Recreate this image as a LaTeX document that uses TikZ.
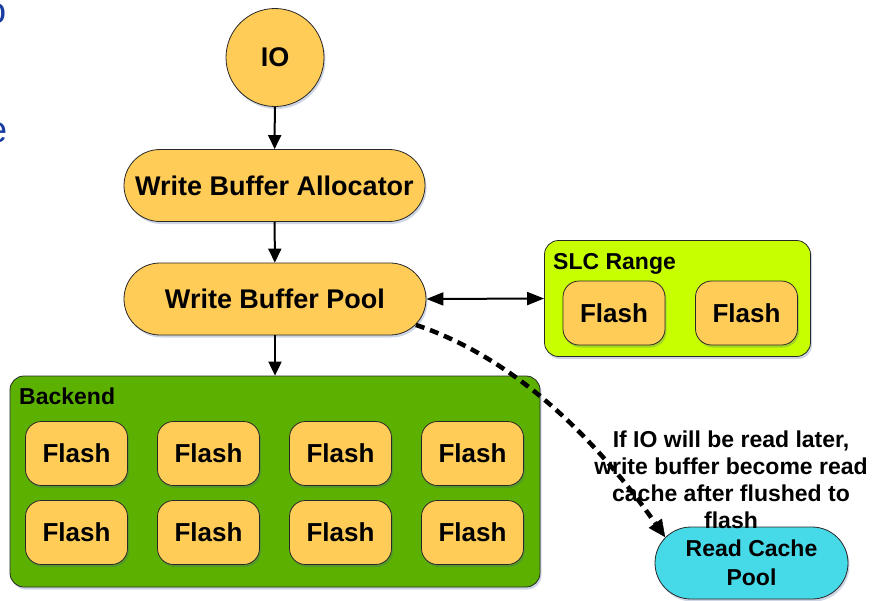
\documentclass[tikz,border=0pt]{standalone}
\usepackage{fontspec}
\setmainfont{Liberation Sans}
\usetikzlibrary{arrows.meta,shadows}

\definecolor{boxorange}{RGB}{255,204,88}
\definecolor{backgreen}{RGB}{92,177,0}
\definecolor{slclime}{RGB}{200,255,0}
\definecolor{cachecyan}{RGB}{70,218,233}
\definecolor{edgegray}{RGB}{40,40,40}
\definecolor{slideblue}{RGB}{25,60,160}
\definecolor{shadowtone}{RGB}{60,90,150}

\tikzset{
  softshadow/.style={drop shadow={shadow xshift=1.5pt,shadow yshift=-2.5pt,fill=shadowtone,opacity=0.25}},
  bold/.style={font=\bfseries\fontsize{#1}{#1}\selectfont},
  stadium/.style={rectangle,rounded corners=36,draw=edgegray,line width=0.8,
    fill=boxorange,softshadow,minimum height=72,bold=27},
  iocircle/.style={circle,draw=edgegray,line width=0.8,fill=boxorange,
    softshadow,minimum size=98,bold=27},
  groupbox/.style={rectangle,rounded corners=14,draw=edgegray,line width=0.8,softshadow},
  grouplabel/.style={anchor=base west,inner sep=0,bold=23},
  flashbox/.style={rectangle,rounded corners=16,draw=edgegray,line width=0.8,
    fill=boxorange,softshadow,minimum width=102,minimum height=64,bold=26},
  flow/.style={line width=2,-{Triangle[length=14pt,width=13pt]}},
  both/.style={line width=2,{Triangle[length=17pt,width=13pt]}-{Triangle[length=17pt,width=13pt]}},
  flushline/.style={line width=4.5,dash pattern=on 9pt off 6pt,
    -{Triangle[length=17pt,width=16pt,line width=0.5pt]}},
}

\begin{document}
\begin{tikzpicture}[x=1pt,y=-1pt]
\useasboundingbox (0,0) rectangle (874,600);
\clip (0,0) rectangle (874,600);

% edge of a neighbouring text block
\node[anchor=base east,inner sep=0,text=slideblue,font=\fontsize{37}{40}\selectfont] (txa) at (6.5,23) {o};
\node[anchor=base east,inner sep=0,text=slideblue,font=\fontsize{37}{40}\selectfont] (txb) at (7.5,142) {e};

% main write path
\node[iocircle] (io) at (275,57.5) {IO};
\node[stadium,minimum width=301] (alloc) at (274.5,185.5) {Write Buffer Allocator};
\node[stadium,minimum width=302] (pool) at (275,299) {Write Buffer Pool};

% SLC range
\node[groupbox,fill=slclime,minimum width=266,minimum height=116] (slc) at (677.5,298.5) {};
\node[grouplabel] (slclabel) at (553,269) {SLC Range};
\node[flashbox] (sf1) at (614,313) {Flash};
\node[flashbox] (sf2) at (746.5,313) {Flash};

% backend
\node[groupbox,fill=backgreen,minimum width=530,minimum height=211] (back) at (275,481.5) {};
\node[grouplabel] (backlabel) at (19,404) {Backend};
\foreach \c [count=\i] in {76.5,208.5,340.5,472.5}{
  \node[flashbox] (bf\i a) at (\c,453.5) {Flash};
  \node[flashbox] (bf\i b) at (\c,532.5) {Flash};
}

% read cache
\node[stadium,fill=cachecyan,minimum width=193,align=center,
  font=\bfseries\fontsize{23}{29}\selectfont] (rc) at (751.5,563) {Read Cache\\Pool};

% connectors
\draw[flow] (io) -- (alloc);
\draw[flow] (alloc) -- (pool);
\draw[flow] (pool) -- (back);
\draw[both] (pool.east) -- (slc.west);

% multi-line node: base anchor sits on the last line
\node[align=center,inner sep=0,anchor=base,font=\bfseries\fontsize{23}{27}\selectfont] (note)
  at (731,528) {If IO will be read later,\\write buffer become read\\cache after flushed to\\flash};

\draw[flushline] ([shift={(-10.5,-10.5)}]pool.south east)
  .. controls (520,360) and (600,445) .. ([shift={(10.5,10.5)}]rc.north west);
\end{tikzpicture}
\end{document}
